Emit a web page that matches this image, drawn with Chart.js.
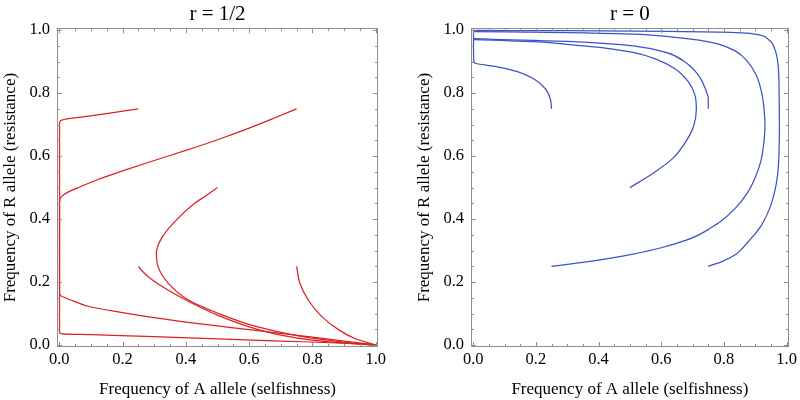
<!DOCTYPE html>
<html>
<head>
<meta charset="utf-8">
<script src="https://cdn.jsdelivr.net/npm/chart.js@4"></script>
<style>
  body { margin: 0; background: #fff; }
  .row { display: flex; width: 800px; height: 400px; }
  .panel { position: relative; width: 400px; height: 400px; }
</style>
</head>
<body>
<div class="row">
  <div class="panel"><canvas id="leftChart"></canvas></div>
  <div class="panel"><canvas id="rightChart"></canvas></div>
</div>
<script>
// tick labels (both axes, both panels)
const tickValues = [0, 0.2, 0.4, 0.6, 0.8, 1.0];

// r = 1/2 trajectories, [A freq, R freq]
const half1 = [[0.25,0.75],[0.15,0.735],[0.07,0.724],[0.025,0.718],[0.008,0.714],[0.002,0.709],[0.001,0.7],[0.001,0.5],[0.001,0.3],[0.001,0.1],[0.001,0.045],[0.002,0.038],[0.01,0.036],[0.1,0.033],[0.3,0.027],[0.5,0.02],[0.7,0.013],[0.9,0.006],[1,0]];
const half2 = [[0.75,0.75],[0.68,0.721],[0.6,0.689],[0.5,0.652],[0.4,0.618],[0.3,0.586],[0.2,0.553],[0.12,0.525],[0.06,0.5],[0.025,0.484],[0.008,0.472],[0.002,0.462],[0.001,0.44],[0.001,0.3],[0.001,0.17],[0.003,0.158],[0.015,0.152],[0.05,0.138],[0.1,0.121],[0.2,0.103],[0.3,0.087],[0.4,0.073],[0.5,0.061],[0.6,0.049],[0.7,0.037],[0.8,0.025],[0.9,0.013],[1,0]];
const half3 = [[0.5,0.5],[0.46,0.472],[0.428,0.45],[0.365,0.392],[0.323,0.339],[0.307,0.292],[0.312,0.25],[0.344,0.197],[0.407,0.144],[0.512,0.097],[0.618,0.06],[0.723,0.036],[0.828,0.018],[0.934,0.0056],[1,0]];
const half4 = [[0.25,0.25],[0.265,0.232],[0.29,0.21],[0.333,0.181],[0.4,0.143],[0.5,0.095],[0.6,0.058],[0.7,0.032],[0.8,0.016],[0.9,0.006],[1,0]];
const half5 = [[0.75,0.25],[0.76,0.197],[0.786,0.144],[0.828,0.092],[0.881,0.05],[0.934,0.021],[1,0]];

// r = 0 trajectories
const zero1 = [[0.25,0.75],[0.246,0.782],[0.231,0.813],[0.194,0.845],[0.141,0.868],[0.068,0.885],[0.009,0.894],[0.002,0.899],[0.001,0.95],[0.001,0.998]];
const zero2 = [[0.75,0.75],[0.75,0.782],[0.741,0.813],[0.72,0.855],[0.678,0.897],[0.615,0.929],[0.51,0.95],[0.404,0.959],[0.299,0.964],[0.194,0.967],[0.089,0.97],[0.001,0.973]];
const zero3 = [[0.5,0.5],[0.573,0.545],[0.636,0.592],[0.678,0.645],[0.704,0.697],[0.712,0.75],[0.708,0.792],[0.688,0.834],[0.646,0.876],[0.583,0.908],[0.51,0.929],[0.404,0.945],[0.299,0.955],[0.194,0.963],[0.089,0.967],[0.001,0.97]];
const zero4 = [[0.25,0.25],[0.33,0.26],[0.42,0.273],[0.51,0.289],[0.6,0.309],[0.68,0.333],[0.72,0.35],[0.755,0.37],[0.79,0.393],[0.836,0.434],[0.875,0.483],[0.9,0.532],[0.918,0.585],[0.927,0.64],[0.931,0.697],[0.928,0.75],[0.92,0.803],[0.904,0.855],[0.878,0.897],[0.836,0.934],[0.78,0.956],[0.72,0.968],[0.615,0.98],[0.51,0.987],[0.3,0.992],[0.001,0.995]];
const zero5 = [[0.75,0.25],[0.795,0.266],[0.836,0.287],[0.858,0.306],[0.878,0.329],[0.9,0.354],[0.92,0.381],[0.946,0.434],[0.962,0.487],[0.971,0.539],[0.975,0.592],[0.977,0.697],[0.976,0.803],[0.973,0.887],[0.962,0.94],[0.941,0.971],[0.899,0.987],[0.836,0.992],[0.615,0.996],[0.299,0.998],[0.001,0.999]];

const SERIF = "'Liberation Serif', 'DejaVu Serif', serif";

// mathematica style frame, ticks inward on all sides
const framePlugin = {
    id: 'frame',
    afterDraw(chart) {
        const { ctx, chartArea: a, scales } = chart;
        ctx.save();
        ctx.strokeStyle = '#8f8f8f';
        ctx.lineWidth = 1;
        ctx.strokeRect(Math.round(a.left) + 0.5, Math.round(a.top) + 0.5, Math.round(a.width) - 1, Math.round(a.height) - 1);
        ctx.beginPath();
        for (let i = 0; i <= 20; i++) {
            const v = i / 20;
            const len = i % 4 === 0 ? 5 : 3;
            const px = Math.round(scales.x.getPixelForValue(v)) + 0.5;
            const py = Math.round(scales.y.getPixelForValue(v)) + 0.5;
            ctx.moveTo(px, a.bottom); ctx.lineTo(px, a.bottom - len);
            ctx.moveTo(px, a.top); ctx.lineTo(px, a.top + len);
            ctx.moveTo(a.left, py); ctx.lineTo(a.left + len, py);
            ctx.moveTo(a.right, py); ctx.lineTo(a.right - len, py);
        }
        ctx.stroke();
        ctx.restore();
    }
};

function makeChart(canvasId, title, curves, color, padLeft, padRight) {
    const canvas = document.getElementById(canvasId);
    canvas.width = 400;
    canvas.height = 400;
    // every trajectory is monotone in R, so interpolate along y
    const datasets = curves.map(c => ({
        data: c.map(p => ({ x: p[0], y: p[1] })),
        borderColor: color,
        borderWidth: 1.25,
        pointRadius: 0,
        cubicInterpolationMode: 'monotone',
        fill: false
    }));

    return new Chart(canvas.getContext('2d'), {
        type: 'line',
        data: { datasets },
        plugins: [framePlugin],
        options: {
            indexAxis: 'y',
            responsive: false,
            animation: false,
            layout: { padding: { left: padLeft, right: padRight, top: 0, bottom: 0 } },
            plugins: {
                legend: { display: false },
                tooltip: { enabled: false },
                title: {
                    display: true,
                    text: title,
                    fullSize: false,
                    color: '#000',
                    font: { family: SERIF, size: 21, weight: 'normal', lineHeight: 1.2 },
                    padding: { top: 2, bottom: 1 }
                }
            },
            scales: {
                x: {
                    type: 'linear',
                    position: 'bottom',
                    min: -0.007,
                    max: 1.007,
                    afterBuildTicks: s => { s.ticks = tickValues.map(v => ({ value: v })); },
                    afterFit: s => { s.height = 53; },
                    grid: { display: false, drawTicks: false },
                    border: { display: false },
                    ticks: {
                        color: '#000',
                        padding: 3,
                        font: { family: SERIF, size: 16.5 },
                        callback: v => v.toFixed(1)
                    },
                    title: {
                        display: true,
                        text: 'Frequency of A allele (selfishness)',
                        color: '#000',
                        font: { family: SERIF, size: 17, lineHeight: 1.2 },
                        padding: { top: 0, bottom: 0 }
                    }
                },
                y: {
                    type: 'linear',
                    position: 'left',
                    min: -0.006,
                    max: 1.006,
                    afterBuildTicks: s => { s.ticks = tickValues.map(v => ({ value: v })); },
                    afterFit: s => { s.width = 57; },
                    grid: { display: false, drawTicks: false },
                    border: { display: false },
                    ticks: {
                        color: '#000',
                        padding: 7,
                        font: { family: SERIF, size: 16.5 },
                        callback: v => v.toFixed(1)
                    },
                    title: {
                        display: true,
                        text: 'Frequency of R allele (resistance)',
                        color: '#000',
                        font: { family: SERIF, size: 17, lineHeight: 1.2 },
                        padding: { top: 0, bottom: 0 }
                    }
                }
            }
        }
    });
}

makeChart('leftChart', 'r = 1/2', [half1, half2, half3, half4, half5], '#dc2222', 0, 22);
makeChart('rightChart', 'r = 0', [zero1, zero2, zero3, zero4, zero5], '#3d52c8', 14, 7);
</script>
</body>
</html>
